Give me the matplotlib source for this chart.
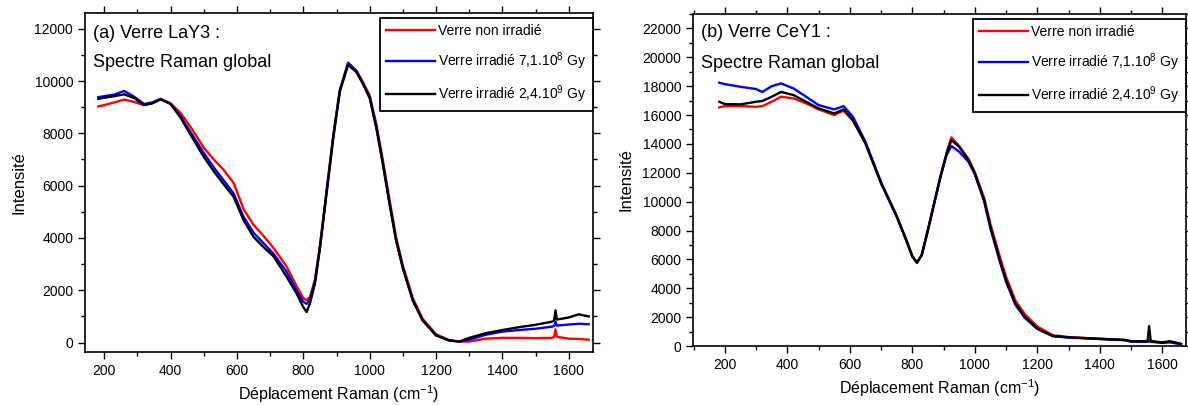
import matplotlib
matplotlib.use("Agg")
import matplotlib.pyplot as plt
from matplotlib.ticker import MultipleLocator

plt.rcParams["font.family"] = ["Liberation Sans", "DejaVu Sans"]
plt.rcParams["mathtext.fontset"] = "custom"
plt.rcParams["mathtext.rm"] = "Liberation Sans"
plt.rcParams["mathtext.default"] = "regular"

# ── données ───────────────────────────────────────────────────────────────
labels = ["Verre non irradié",
          "Verre irradié 7,1.10$^{8}$ Gy",
          "Verre irradié 2,4.10$^{9}$ Gy"]
colors = ["#ff0000", "#0000ff", "#000000"]

# (a) LaY3
x_lay3 = [182, 200, 230, 260, 290, 320, 345, 370, 400, 430, 460, 500, 530, 560,
          590, 620, 650, 680, 710, 750, 780, 800, 810, 820, 835, 850, 870, 890,
          910, 935, 960, 980, 1000, 1020, 1040, 1060, 1080, 1100, 1130, 1160,
          1200, 1240, 1270, 1300, 1350, 1400, 1450, 1500, 1550, 1556, 1560, 1564,
          1600, 1630, 1660]
lay3_non_irr = [9030, 9080, 9180, 9290, 9200, 9080, 9150, 9300, 9150, 8780, 8250,
                7450, 7000, 6600, 6100, 5100, 4500, 4080, 3620, 2900, 2150, 1700,
                1620, 1750, 2400, 3700, 5800, 7900, 9650, 10680, 10400, 9950, 9450,
                8350, 6950, 5450, 4000, 2950, 1700, 900, 320, 90, 40, 40, 150, 180,
                180, 170, 180, 220, 500, 220, 150, 140, 110]
lay3_irr_7e8 = [9380, 9420, 9480, 9620, 9400, 9120, 9180, 9320, 9130, 8650, 8050,
                7250, 6700, 6200, 5700, 4800, 4200, 3800, 3400, 2700, 1980, 1560,
                1480, 1650, 2350, 3650, 5750, 7850, 9650, 10700, 10380, 9900, 9380,
                8250, 6850, 5320, 3900, 2850, 1620, 850, 280, 80, 40, 110, 300, 420,
                480, 530, 610, 640, 800, 650, 690, 720, 700]
lay3_irr_2e9 = [9320, 9360, 9420, 9490, 9350, 9080, 9150, 9300, 9120, 8600, 7950,
                7100, 6550, 6050, 5570, 4680, 4040, 3650, 3300, 2510, 1870, 1350,
                1170, 1500, 2250, 3600, 5700, 7800, 9600, 10620, 10340, 9880, 9350,
                8200, 6800, 5280, 3880, 2850, 1600, 840, 270, 80, 40, 180, 360, 480,
                590, 680, 800, 850, 1230, 880, 960, 1080, 1000]

# (b) CeY1
x_cey1 = [182, 200, 250, 300, 320, 350, 380, 420, 460, 500, 550, 580, 610, 650,
          700, 750, 780, 800, 815, 830, 850, 870, 890, 910, 925, 950, 980, 1000,
          1030, 1050, 1080, 1100, 1130, 1160, 1200, 1250, 1300, 1400, 1480, 1500,
          1553, 1558, 1563, 1600, 1625, 1660]
cey1_non_irr = [16530, 16620, 16620, 16570, 16620, 16920, 17270, 17150, 16810,
                16390, 16000, 16300, 15600, 14050, 11300, 9000, 7400, 6250, 5800,
                6300, 8050, 9900, 11750, 13400, 14450, 13850, 12950, 12050, 10250,
                8450, 6200, 4800, 3150, 2200, 1350, 750, 620, 500, 420, 320, 320,
                380, 320, 230, 300, 140]
cey1_irr_7e8 = [18240, 18140, 17960, 17800, 17600, 18000, 18190, 17840, 17270,
                16690, 16390, 16620, 15880, 14150, 11350, 9000, 7380, 6200, 5770,
                6300, 8030, 9880, 11700, 13250, 13850, 13460, 12750, 11900, 10000,
                8150, 5850, 4450, 2850, 1950, 1180, 680, 580, 480, 400, 300, 290,
                350, 290, 220, 250, 120]
cey1_irr_2e9 = [16920, 16760, 16740, 16920, 16970, 17270, 17600, 17380, 16920,
                16460, 16110, 16390, 15650, 14030, 11260, 8960, 7340, 6190, 5770,
                6300, 8030, 9880, 11730, 13340, 14270, 13800, 12880, 11960, 10110,
                8260, 5960, 4570, 2950, 2030, 1220, 690, 600, 500, 420, 330, 330,
                1380, 340, 250, 330, 150]


def draw_panel(ax, x, series, title, xlim, ylim, ymax_tick, text_y):
    for y, c, lab in zip(series, colors, labels):
        ax.plot(x, y, color=c, linewidth=1.7, label=lab)

    ax.set_xlim(*xlim)
    ax.set_ylim(*ylim)
    ax.xaxis.set_minor_locator(MultipleLocator(100))
    ax.yaxis.set_minor_locator(MultipleLocator(1000))
    ax.set_xticks(list(range(200, 1601, 200)))
    ax.set_yticks(list(range(0, ymax_tick + 1, 2000)))
    ax.tick_params(which="both", direction="out", top=True, right=True,
                   labelsize=10, width=1.0)
    ax.tick_params(which="major", length=5)
    ax.tick_params(which="minor", length=3)
    for sp in ax.spines.values():
        sp.set_linewidth(1.2)

    ax.set_xlabel("Déplacement Raman (cm$^{-1}$)", fontsize=11.5, labelpad=4)
    ax.set_ylabel("Intensité", fontsize=12, labelpad=6)

    ax.text(0.016, text_y[0], title, transform=ax.transAxes, fontsize=13,
            va="center", ha="left")
    ax.text(0.016, text_y[1], "Spectre Raman global", transform=ax.transAxes,
            fontsize=13, va="center", ha="left")

    leg = ax.legend(loc="upper right", bbox_to_anchor=(1.0, 0.985),
                    borderaxespad=0, fontsize=10, handlelength=3.5,
                    labelspacing=0.85, fancybox=False, framealpha=1,
                    edgecolor="black", borderpad=0.45, handletextpad=0.25)
    leg.get_frame().set_linewidth(1.3)


fig = plt.figure(figsize=(11.88, 4.05), dpi=100)
ax_a = fig.add_axes([85 / 1188, 1 - 352 / 405, 508 / 1188, 339 / 405])
ax_b = fig.add_axes([693 / 1188, 1 - 346 / 405, 493 / 1188, 332 / 405])

draw_panel(ax_a, x_lay3, [lay3_non_irr, lay3_irr_7e8, lay3_irr_2e9],
           "(a) Verre LaY3 :", (142, 1673), (-360, 12600), 12000, (0.94, 0.853))
draw_panel(ax_b, x_cey1, [cey1_non_irr, cey1_irr_7e8, cey1_irr_2e9],
           "(b) Verre CeY1 :", (98, 1676), (0, 23000), 22000, (0.943, 0.852))

fig.savefig("out.png", dpi=100)
